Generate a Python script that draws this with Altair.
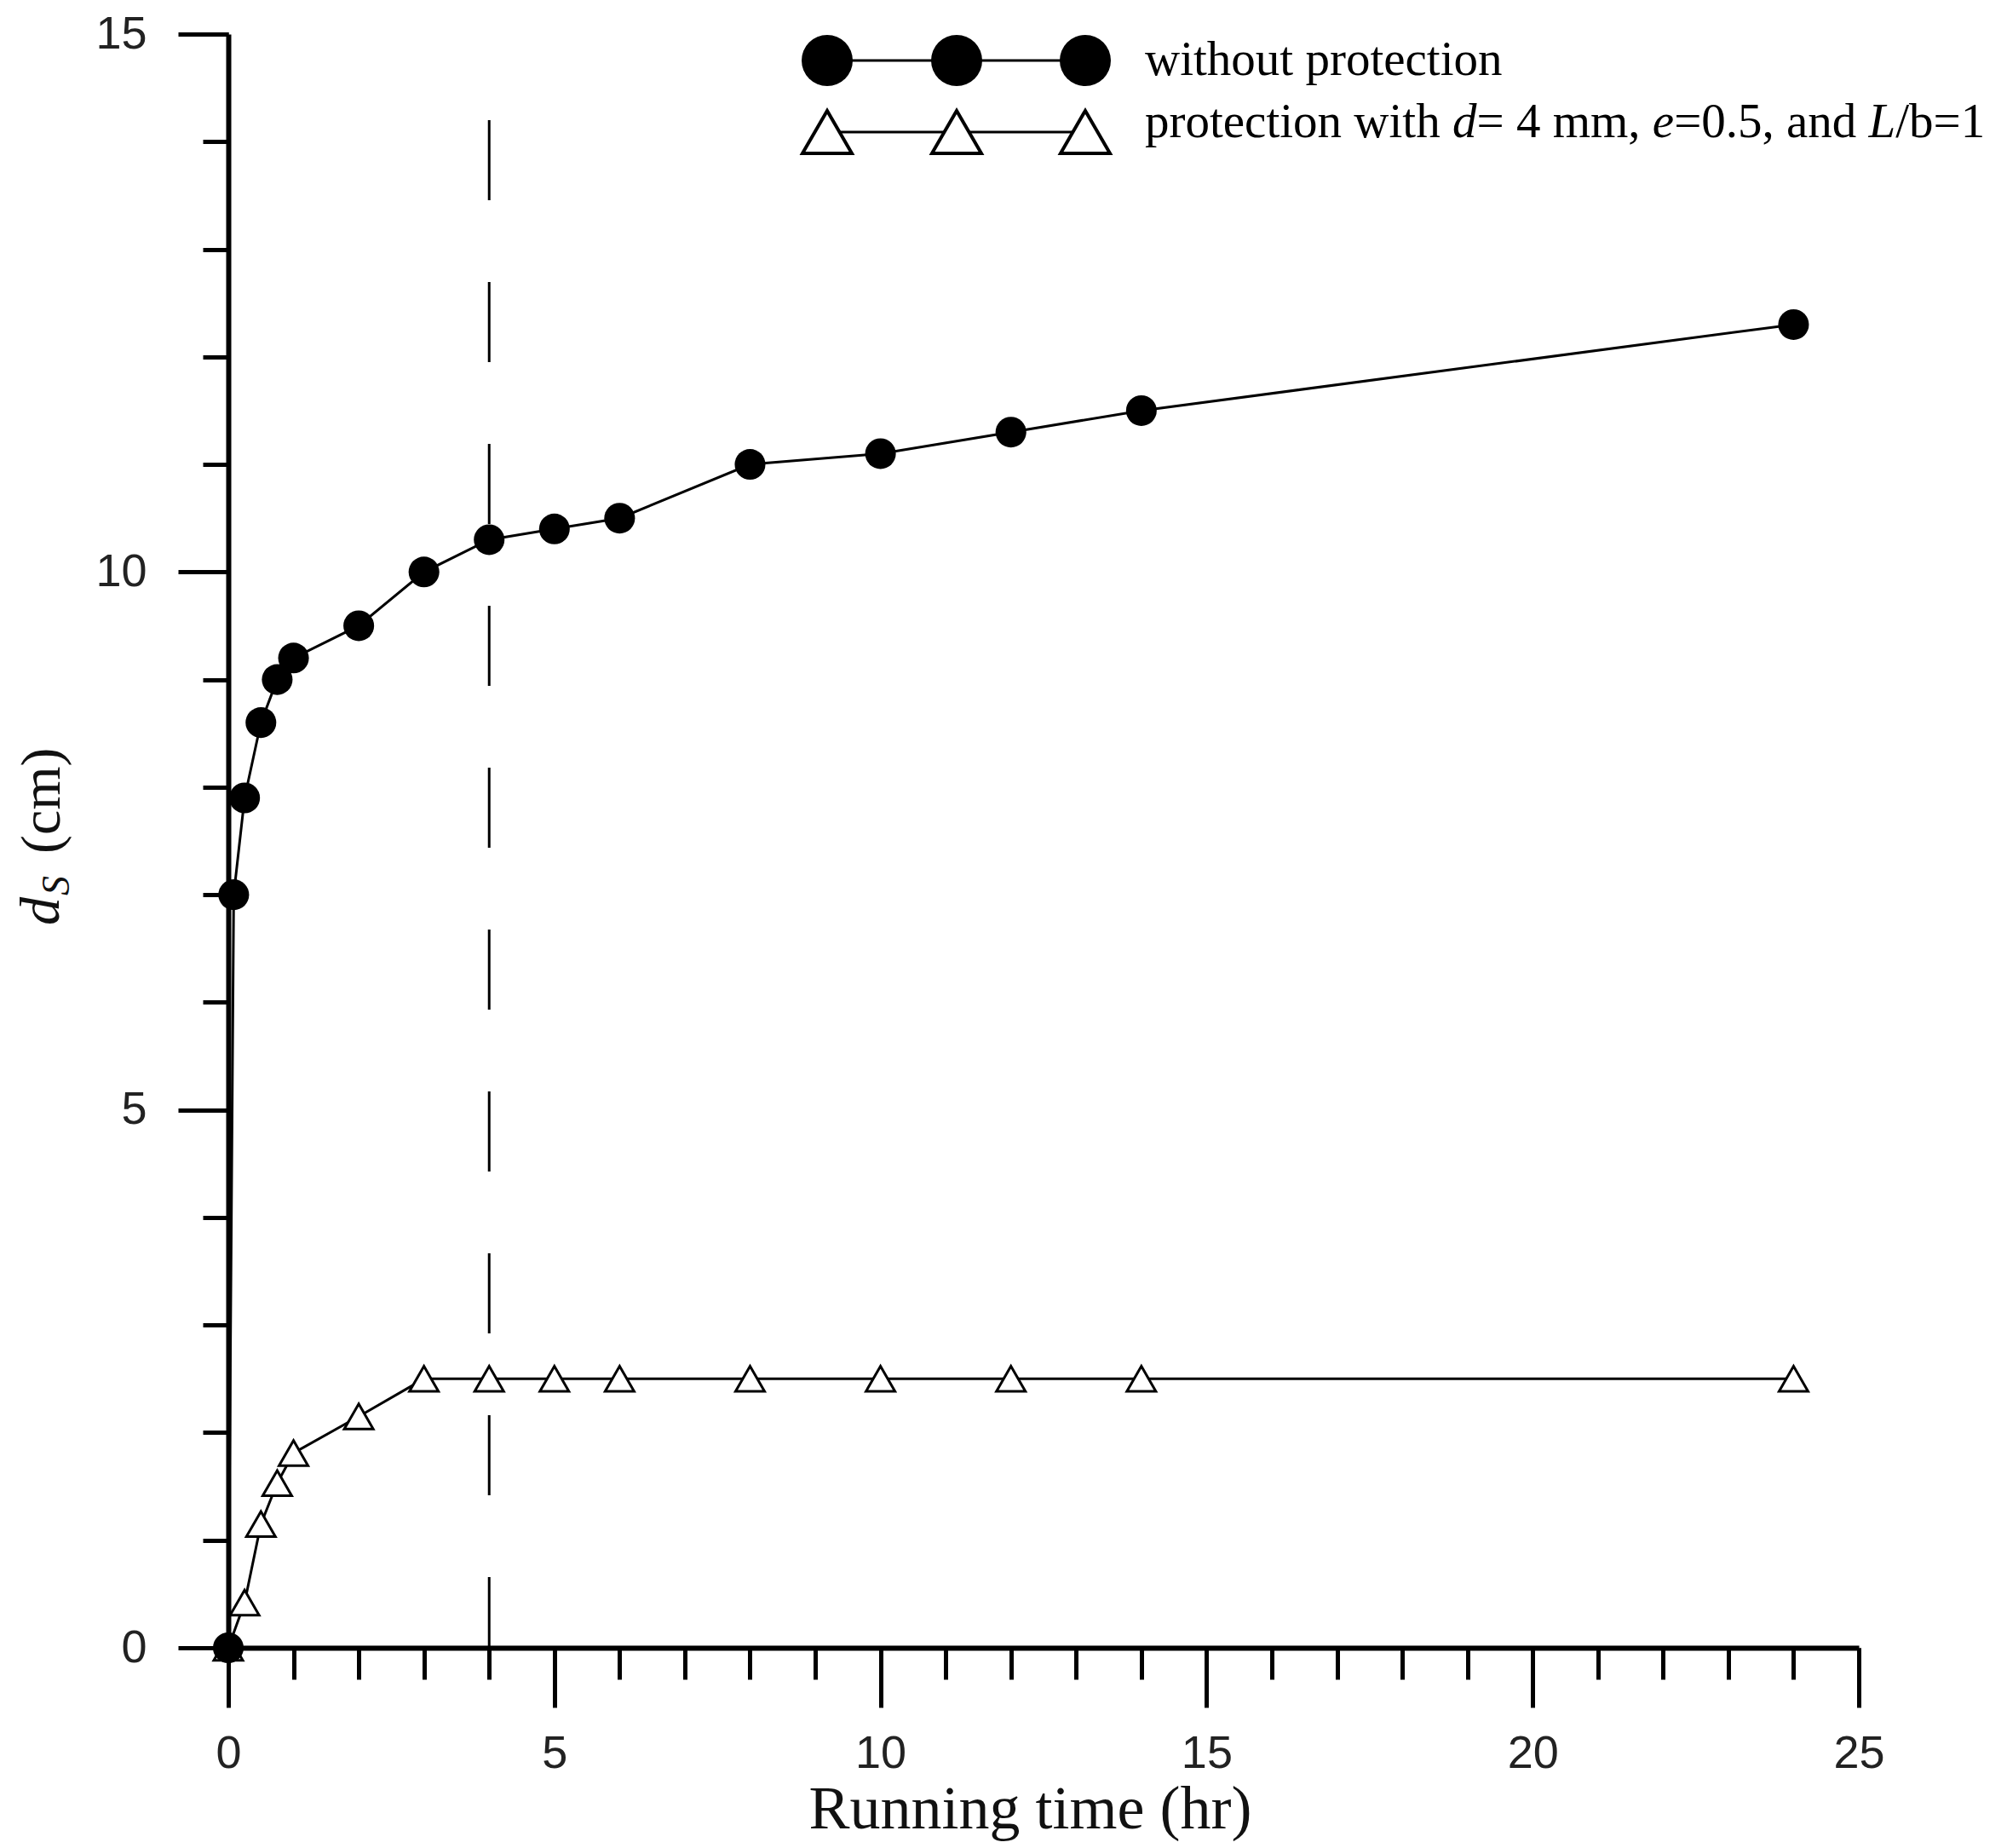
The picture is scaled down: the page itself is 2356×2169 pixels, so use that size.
import altair as alt
import pandas as pd

# ---------------- data ----------------
t_without = [0, 0.083, 0.25, 0.5, 0.75, 1, 2, 3, 4, 5, 6, 8, 10, 12, 14, 24]
ds_without = [0, 7.0, 7.9, 8.6, 9.0, 9.2, 9.5, 10.0, 10.3, 10.4, 10.5, 11.0, 11.1, 11.3, 11.5, 12.3]

t_prot = [0, 0.25, 0.5, 0.75, 1, 2, 3, 4, 5, 6, 8, 10, 12, 14, 24]
ds_prot = [0, 0.42, 1.15, 1.53, 1.81, 2.15, 2.5, 2.5, 2.5, 2.5, 2.5, 2.5, 2.5, 2.5, 2.5]

ref_t = [4]
ref_top = [14.2]
ref_bottom = [0]

x_ticks_major = [0, 5, 10, 15, 20, 25]
x_ticks_minor = list(range(0, 26))
y_ticks_major = [0, 5, 10, 15]
y_ticks_minor = list(range(0, 16))

x_title = "Running time (hr)"
legend_row1 = "without protection"
legend_row2 = [("protection with ", "normal"), ("d", "italic"), ("= 4 mm, ", "normal"),
               ("e", "italic"), ("=0.5, and ", "normal"), ("L", "italic"), ("/b=1", "normal")]

# ---------------- style / layout constants ----------------
TOP = 32
W, H = 1914, 1894
SERIF = "Liberation Serif"
SANS = "Liberation Sans"
LEG_MARK_X = [703, 855, 1006]
LEG_ROW_Y = [31, 115]
LEG_TEXT_X = 1076
LEG_TEXT_BASE = [48, 121]
LEG_FONT = 57
# approximate advance widths (em) of the row-2 segments in Times/Liberation Serif
SEG_EM = [6.333, 0.5, 3.62, 0.444, 4.008, 0.556, 1.842]

df_w = pd.DataFrame({"t": t_without, "ds": ds_without})
df_p = pd.DataFrame({"t": t_prot, "ds": ds_prot})
df_ref = pd.DataFrame({"t": ref_t, "top": ref_top, "bottom": ref_bottom})
one = pd.DataFrame({"k": [0]})

xscale = alt.Scale(domain=[0, 25], nice=False, zero=False)
yscale = alt.Scale(domain=[0, 15], nice=False, zero=False)

x_major = alt.Axis(
    orient="bottom", values=x_ticks_major, format="d", grid=False,
    domainColor="black", domainWidth=6, tickColor="black", tickWidth=5, tickSize=70,
    labelFont=SANS, labelFontSize=54, labelColor="#222", labelPadding=27,
    labelFlush=False, labelOverlap=False,
    title=x_title, titleFont=SERIF, titleFontSize=72, titleFontWeight="normal",
    titleColor="#111", titleX=941, titleY=211, titleBaseline="alphabetic", titleAlign="center",
)
y_major = alt.Axis(
    orient="left", values=y_ticks_major, format="d", grid=False,
    domainColor="black", domainWidth=6, tickColor="black", tickWidth=5, tickSize=59,
    labelFont=SANS, labelFontSize=54, labelColor="#222", labelPadding=37,
    labelFlush=False, labelOverlap=False, title=None,
)
x_minor = alt.Axis(orient="bottom", values=x_ticks_minor, grid=False, domain=False,
                   labels=False, tickColor="black", tickWidth=5, tickSize=37, title=None)
y_minor = alt.Axis(orient="left", values=y_ticks_minor, grid=False, domain=False,
                   labels=False, tickColor="black", tickWidth=5, tickSize=30, title=None)

# dashed reference line (carries the minor-tick axes)
ref = alt.Chart(df_ref).mark_rule(color="black", strokeWidth=3, strokeDash=[94, 96]).encode(
    x=alt.X("t:Q", scale=xscale, axis=x_minor),
    y=alt.Y("top:Q", scale=yscale, axis=y_minor),
    y2="bottom:Q",
)

# lines (carry the major axes)
line_w = alt.Chart(df_w).mark_line(color="black", strokeWidth=3).encode(
    x=alt.X("t:Q", scale=xscale, axis=x_major),
    y=alt.Y("ds:Q", scale=yscale, axis=y_major),
)
line_p = alt.Chart(df_p).mark_line(color="black", strokeWidth=3).encode(
    x=alt.X("t:Q", scale=xscale, axis=None),
    y=alt.Y("ds:Q", scale=yscale, axis=None),
)

pts_p = alt.Chart(df_p).mark_point(shape="triangle-up", size=1156, filled=True, fill="white",
                                   stroke="black", strokeWidth=3, opacity=1).encode(
    x=alt.X("t:Q", scale=xscale, axis=None),
    y=alt.Y("ds:Q", scale=yscale, axis=None),
)
pts_w = alt.Chart(df_w).mark_point(shape="circle", size=1300, filled=True, color="black",
                                   opacity=1).encode(
    x=alt.X("t:Q", scale=xscale, axis=None),
    y=alt.Y("ds:Q", scale=yscale, axis=None),
)

layers = [ref, line_w, line_p, pts_p, pts_w]

# ---------------- custom legend ----------------
for ry in LEG_ROW_Y:
    layers.append(alt.Chart(one).mark_rule(color="black", strokeWidth=3).encode(
        x=alt.value(LEG_MARK_X[0]), x2=alt.value(LEG_MARK_X[-1]), y=alt.value(ry)))
for lx in LEG_MARK_X:
    layers.append(alt.Chart(one).mark_point(shape="circle", size=3600, filled=True,
                                            color="black", opacity=1).encode(
        x=alt.value(lx), y=alt.value(LEG_ROW_Y[0])))
    layers.append(alt.Chart(one).mark_point(shape="triangle-up", size=3364, filled=True,
                                            fill="white", stroke="black", strokeWidth=4,
                                            opacity=1).encode(
        x=alt.value(lx), y=alt.value(LEG_ROW_Y[1])))

layers.append(alt.Chart(one).mark_text(font=SERIF, fontSize=LEG_FONT, align="left",
                                       baseline="alphabetic", color="black").encode(
    x=alt.value(LEG_TEXT_X), y=alt.value(LEG_TEXT_BASE[0]), text=alt.value(legend_row1)))

cum = 0.0
for (seg, style), em in zip(legend_row2, SEG_EM):
    layers.append(alt.Chart(one).mark_text(font=SERIF, fontSize=LEG_FONT, fontStyle=style,
                                           align="left", baseline="alphabetic",
                                           color="black").encode(
        x=alt.value(LEG_TEXT_X + cum * LEG_FONT), y=alt.value(LEG_TEXT_BASE[1]),
        text=alt.value(seg)))
    cum += em

# ---------------- y-axis title d_S (cm) ----------------
y_title_parts = [("d", "italic", 66, -199, 1046), ("S", "italic", 46, -187, 1011),
                 ("(cm)", "normal", 66, -198, 962)]
for txt, style, fs, tx, ty in y_title_parts:
    layers.append(alt.Chart(one).mark_text(font=SERIF, fontSize=fs, fontStyle=style, angle=270,
                                           align="left", baseline="alphabetic",
                                           color="#111").encode(
        x=alt.value(tx), y=alt.value(ty), text=alt.value(txt)))

chart = alt.layer(*layers).resolve_axis(x="independent", y="independent").properties(
    width=W, height=H,
    autosize=alt.AutoSizeParams(type="none"),
    padding={"left": 260, "top": TOP, "right": 160, "bottom": 227},
    background="white",
).configure_view(stroke=None)

chart.save("out.html", embed_options={"renderer": "svg", "actions": False})
